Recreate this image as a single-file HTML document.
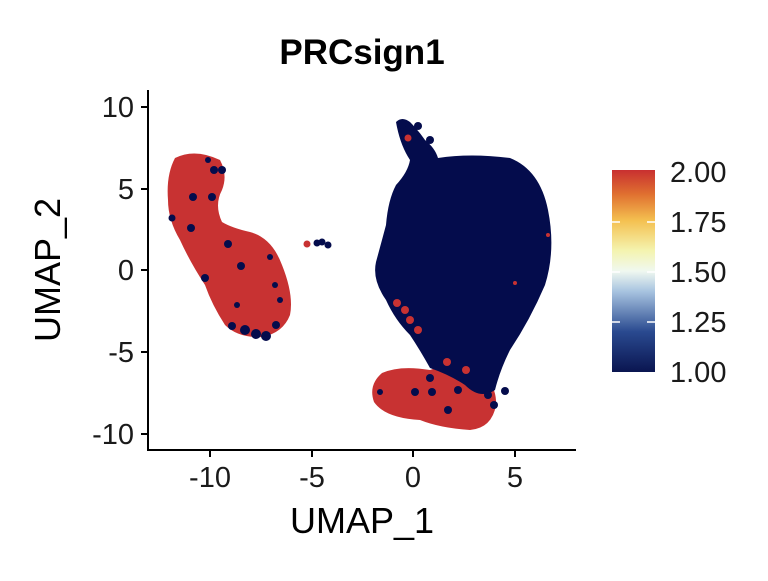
<!DOCTYPE html>
<html><head><style>
body{margin:0;background:#fff;}
svg text{font-family:"Liberation Sans",Arial,sans-serif;}
</style></head><body>
<svg width="768" height="576" viewBox="0 0 768 576" xmlns="http://www.w3.org/2000/svg">
<defs>
<linearGradient id="cb" x1="0" y1="1" x2="0" y2="0">
<stop offset="0" stop-color="#0a1550"/>
<stop offset="0.2" stop-color="#2a4a90"/>
<stop offset="0.4" stop-color="#a8c4e0"/>
<stop offset="0.5" stop-color="#f0f8f0"/>
<stop offset="0.6" stop-color="#f4f4b0"/>
<stop offset="0.75" stop-color="#f4c050"/>
<stop offset="0.88" stop-color="#e07030"/>
<stop offset="1" stop-color="#c83030"/>
</linearGradient>
</defs>
<text x="362" y="64" font-size="35" font-weight="bold" text-anchor="middle">PRCsign1</text>
<!-- left red cluster -->
<path d="M175,158 Q195,148 220,160 Q228,175 222,190 Q214,205 222,222 Q232,228 250,232 Q272,238 282,265 Q294,295 290,315 Q283,333 262,337 Q238,338 225,325 Q212,305 205,285 Q190,262 180,240 Q168,220 168,200 Q166,175 175,158 Z" fill="#c83232"/>
<g fill="#040c4c">
<circle cx="172" cy="218" r="3.5"/><circle cx="193" cy="197" r="4"/><circle cx="191" cy="228" r="4"/><circle cx="212" cy="197" r="4"/><circle cx="228" cy="244" r="4"/><circle cx="241" cy="266" r="4"/><circle cx="266" cy="336" r="5"/><circle cx="245" cy="330" r="5"/><circle cx="232" cy="326" r="4"/><circle cx="270" cy="257" r="3"/><circle cx="222" cy="170" r="4"/><circle cx="214" cy="170" r="4"/><circle cx="208" cy="160" r="3"/><circle cx="256" cy="334" r="5"/><circle cx="276" cy="325" r="4"/><circle cx="205" cy="278" r="4"/><circle cx="275" cy="285" r="3"/><circle cx="237" cy="305" r="3"/><circle cx="280" cy="300" r="3"/>
</g>
<circle cx="307" cy="244" r="3.5" fill="#c83232"/>
<circle cx="317" cy="243" r="3.5" fill="#040c4c"/><circle cx="322" cy="242" r="3.5" fill="#040c4c"/><circle cx="328" cy="245" r="3.5" fill="#040c4c"/>
<!-- bottom red cluster -->
<path d="M382,373 Q400,365 430,370 Q455,360 480,372 Q497,385 496,405 Q492,428 470,430 Q440,428 420,420 Q385,418 374,402 Q368,385 382,373 Z" fill="#c83232"/>
<!-- right dark cluster -->
<path d="M396,122 Q402,116 410,122 Q418,130 425,140 Q435,148 438,158 Q470,153 510,158 Q540,170 548,210 Q556,250 545,285 Q530,320 510,350 Q500,370 495,390 Q480,400 465,385 Q450,375 430,368 Q420,350 410,335 Q395,320 386,300 Q372,280 376,262 Q382,240 386,225 Q388,200 396,185 Q408,172 410,160 Q400,145 396,122 Z" fill="#040c4c"/>
<g fill="#040c4c"><circle cx="402" cy="125" r="4"/><circle cx="418" cy="126" r="4"/><circle cx="430" cy="140" r="4"/></g>
<g fill="#c83232">
<circle cx="397" cy="303" r="4"/><circle cx="405" cy="310" r="4"/><circle cx="410" cy="320" r="4"/><circle cx="418" cy="330" r="4"/><circle cx="408" cy="138" r="3.5"/><circle cx="548" cy="235" r="2"/><circle cx="515" cy="283" r="2"/><circle cx="466" cy="370" r="4"/><circle cx="447" cy="362" r="4"/>
</g>
<g fill="#040c4c">
<circle cx="430" cy="378" r="4"/><circle cx="432" cy="392" r="4"/><circle cx="458" cy="390" r="4"/><circle cx="488" cy="395" r="4"/><circle cx="494" cy="405" r="4"/><circle cx="505" cy="391" r="4"/><circle cx="415" cy="392" r="4"/><circle cx="380" cy="392" r="3"/><circle cx="448" cy="410" r="4"/>
</g>
<!-- axes -->
<g stroke="#000" stroke-width="2" fill="none">
<path d="M148,90 V450 H576"/>
<path d="M141,107 H148 M141,189 H148 M141,270 H148 M141,352 H148 M141,434 H148"/>
<path d="M210,450 V457 M312,450 V457 M413,450 V457 M515,450 V457"/>
</g>
<g font-size="29" fill="#1a1a1a" text-anchor="end">
<text x="134" y="117">10</text><text x="134" y="199">5</text><text x="134" y="280">0</text><text x="134" y="362">-5</text><text x="134" y="444">-10</text>
</g>
<g font-size="29" fill="#1a1a1a" text-anchor="middle">
<text x="210" y="487">-10</text><text x="312" y="487">-5</text><text x="413" y="487">0</text><text x="515" y="487">5</text>
</g>
<text x="362" y="533" font-size="36" text-anchor="middle">UMAP_1</text>
<text transform="translate(60,270) rotate(-90)" font-size="36" text-anchor="middle">UMAP_2</text>
<rect x="612" y="170" width="43" height="202" fill="url(#cb)"/>
<g stroke="#fff" stroke-width="1.5">
<path d="M612,222 h8 M647,222 h8 M612,272 h8 M647,272 h8 M612,322 h8 M647,322 h8"/>
</g>
<g font-size="29" fill="#1a1a1a">
<text x="670" y="182">2.00</text><text x="670" y="232">1.75</text><text x="670" y="282">1.50</text><text x="670" y="332">1.25</text><text x="670" y="382">1.00</text>
</g>
</svg>
</body></html>
